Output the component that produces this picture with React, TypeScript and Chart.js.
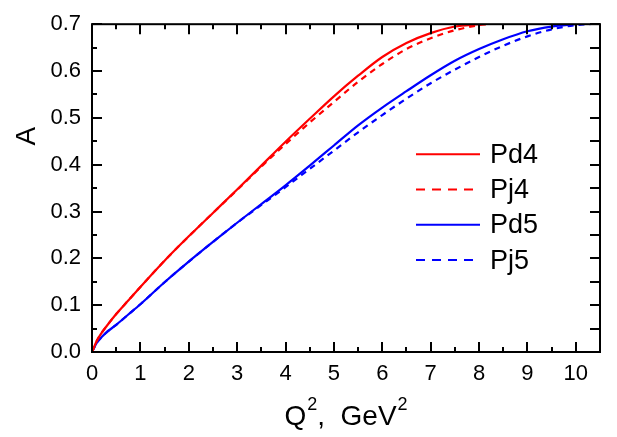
import React, { useEffect, useRef } from "react";
import { Chart, registerables } from "chart.js";
Chart.register(...registerables);

// ---- data ----
const xPd4 = [0, 0.1, 0.2, 0.3, 0.5, 0.75, 1, 1.5, 2, 2.5, 3, 3.5, 4, 4.5, 5, 5.5, 6, 6.5, 7, 7.5, 8];
const yPd4 = [0, 0.024, 0.041, 0.055, 0.081, 0.11, 0.139, 0.195, 0.247, 0.297, 0.347, 0.398, 0.449, 0.498, 0.546, 0.59, 0.63, 0.66, 0.681, 0.695, 0.7];

const xPj4 = [0, 0.1, 0.2, 0.3, 0.5, 0.75, 1, 1.5, 2, 2.5, 3, 3.5, 4, 4.5, 5, 5.5, 6, 6.5, 7, 7.5, 8, 8.2];
const yPj4 = [0, 0.024, 0.041, 0.055, 0.081, 0.11, 0.139, 0.195, 0.247, 0.297, 0.346, 0.396, 0.444, 0.49, 0.534, 0.577, 0.615, 0.647, 0.67, 0.687, 0.698, 0.7];

const xPd5 = [0, 0.1, 0.2, 0.3, 0.5, 0.75, 1, 1.5, 2, 2.5, 3, 3.5, 4, 4.5, 5, 5.5, 6, 6.5, 7, 7.5, 8, 8.5, 9, 9.5, 10];
const yPd5 = [0, 0.02, 0.032, 0.042, 0.058, 0.08, 0.102, 0.149, 0.193, 0.235, 0.276, 0.316, 0.356, 0.398, 0.441, 0.484, 0.522, 0.557, 0.591, 0.622, 0.647, 0.668, 0.685, 0.695, 0.7];

const xPj5 = [0, 0.1, 0.2, 0.3, 0.5, 0.75, 1, 1.5, 2, 2.5, 3, 3.5, 4, 4.5, 5, 5.5, 6, 6.5, 7, 7.5, 8, 8.5, 9, 9.5, 10, 10.3];
const yPj5 = [0, 0.02, 0.032, 0.042, 0.058, 0.08, 0.102, 0.149, 0.193, 0.235, 0.276, 0.314, 0.352, 0.391, 0.43, 0.469, 0.506, 0.541, 0.574, 0.603, 0.63, 0.654, 0.674, 0.689, 0.698, 0.7];

const seriesNames = ["Pd4", "Pj4", "Pd5", "Pj5"];
const xTickValues = [0, 1, 2, 3, 4, 5, 6, 7, 8, 9, 10];
const yTickValues = [0, 0.1, 0.2, 0.3, 0.4, 0.5, 0.6, 0.7];
const yTickLabels = ["0.0", "0.1", "0.2", "0.3", "0.4", "0.5", "0.6", "0.7"];
// x title pieces: [text, isSuperscript]
const xTitleParts: [string, boolean][] = [["Q", false], ["2", true], [",  GeV", false], ["2", true]];
const yTitle = "A";

const FONT = "'Liberation Sans', Arial, sans-serif";
const RED = "#ff0000";
const BLUE = "#0000ff";

const pts = (xs: number[], ys: number[]) => xs.map((x, i) => ({ x, y: ys[i] }));

const framePlugin = {
  id: "frameAndLegend",
  afterDatasetsDraw(chart: any) {
    const { ctx, chartArea, scales } = chart;
    const { left, right, top, bottom } = chartArea;
    const xs = scales.x;
    const ys = scales.y;
    ctx.save();
    ctx.strokeStyle = "#000";
    ctx.lineWidth = 2;
    ctx.setLineDash([]);
    ctx.strokeRect(left, top, right - left, bottom - top);
    // x ticks (bottom & top)
    for (let i = 0; i <= 21; i++) {
      const v = i * 0.5;
      const px = Math.round(xs.getPixelForValue(v));
      const len = i % 2 === 0 ? 10 : 5;
      ctx.beginPath();
      ctx.moveTo(px, bottom);
      ctx.lineTo(px, bottom - len);
      ctx.moveTo(px, top);
      ctx.lineTo(px, top + len);
      ctx.stroke();
    }
    // y ticks (left: major/minor, right: all long)
    for (let i = 0; i <= 14; i++) {
      const v = i * 0.05;
      const py = Math.round(ys.getPixelForValue(v));
      const len = i % 2 === 0 ? 10 : 5;
      ctx.beginPath();
      ctx.moveTo(left, py);
      ctx.lineTo(left + len, py);
      ctx.moveTo(right, py);
      ctx.lineTo(right - 10, py);
      ctx.stroke();
    }
    ctx.fillStyle = "#000";
    // y title
    ctx.save();
    ctx.translate(27, (top + bottom) / 2 - 52);
    ctx.rotate(-Math.PI / 2);
    ctx.font = `28px ${FONT}`;
    ctx.textAlign = "center";
    ctx.textBaseline = "middle";
    ctx.fillText(yTitle, 0, 0);
    ctx.restore();
    // x title with superscripts
    const mainFont = `28px ${FONT}`;
    const supFont = `18px ${FONT}`;
    let total = 0;
    const widths = xTitleParts.map(([t, sup]) => {
      ctx.font = sup ? supFont : mainFont;
      const w = ctx.measureText(t).width + (sup ? 1 : 0);
      total += w;
      return w;
    });
    let cx = (left + right) / 2 - total / 2;
    const baseY = bottom + 73;
    ctx.textAlign = "left";
    ctx.textBaseline = "alphabetic";
    xTitleParts.forEach(([t, sup], i) => {
      ctx.font = sup ? supFont : mainFont;
      ctx.fillText(t, cx + (sup ? 1 : 0), sup ? baseY - 15 : baseY);
      cx += widths[i];
    });
    // legend
    const lx0 = left + 324;
    const lx1 = left + 388;
    const tx = left + 398;
    chart.data.datasets.forEach((ds: any, i: number) => {
      const cy = top + 130 + i * 35.3;
      ctx.beginPath();
      ctx.strokeStyle = ds.borderColor;
      ctx.lineWidth = 2;
      ctx.setLineDash(ds.borderDash && ds.borderDash.length ? [9, 7] : []);
      ctx.moveTo(lx0, cy);
      ctx.lineTo(lx1, cy);
      ctx.stroke();
      ctx.setLineDash([]);
      ctx.fillStyle = "#000";
      ctx.font = `27px ${FONT}`;
      ctx.textAlign = "left";
      ctx.textBaseline = "middle";
      ctx.fillText(ds.label, tx, cy + 1);
    });
    ctx.restore();
  },
};

export default function App() {
  const ref = useRef<HTMLCanvasElement | null>(null);
  useEffect(() => {
    if (!ref.current) return;
    const mk = (label: string, xs: number[], ys: number[], color: string, dashed: boolean) => ({
      label,
      data: pts(xs, ys),
      borderColor: color,
      backgroundColor: color,
      borderWidth: 2.2,
      borderDash: dashed ? [6, 5] : [],
      pointRadius: 0,
      fill: false,
      cubicInterpolationMode: "monotone" as const,
    });
    const chart = new Chart(ref.current, {
      type: "line",
      data: {
        datasets: [
          mk(seriesNames[0], xPd4, yPd4, RED, false),
          mk(seriesNames[1], xPj4, yPj4, RED, true),
          mk(seriesNames[2], xPd5, yPd5, BLUE, false),
          mk(seriesNames[3], xPj5, yPj5, BLUE, true),
        ],
      },
      options: {
        animation: false,
        responsive: true,
        maintainAspectRatio: false,
        layout: { padding: { top: 14, right: 17, left: 0, bottom: 0 } },
        plugins: { legend: { display: false }, tooltip: { enabled: false } },
        scales: {
          x: {
            type: "linear",
            min: 0,
            max: 10.5,
            grid: { display: false, drawTicks: false },
            border: { display: false },
            afterBuildTicks: (s: any) => {
              s.ticks = xTickValues.map((v) => ({ value: v }));
            },
            afterFit: (s: any) => {
              s.height = 85;
            },
            ticks: {
              color: "#000",
              font: { family: FONT, size: 22 },
              padding: 9,
              maxRotation: 0,
              callback: (v: any) => String(v),
            },
            title: { display: false },
          },
          y: {
            type: "linear",
            min: 0,
            max: 0.7,
            grid: { display: false, drawTicks: false },
            border: { display: false },
            afterBuildTicks: (s: any) => {
              s.ticks = yTickValues.map((v) => ({ value: v }));
            },
            afterFit: (s: any) => {
              s.width = 92;
            },
            ticks: {
              color: "#000",
              font: { family: FONT, size: 22 },
              padding: 11,
              callback: (v: any) => {
                const idx = yTickValues.findIndex((t) => Math.abs(t - v) < 1e-9);
                return idx >= 0 ? yTickLabels[idx] : "";
              },
            },
          },
        },
      },
      plugins: [framePlugin],
    });
    return () => chart.destroy();
  }, []);
  return (
    <div style={{ position: "absolute", left: 0, top: 0, width: 617, height: 437, background: "#fff" }}>
      <canvas ref={ref} />
    </div>
  );
}
